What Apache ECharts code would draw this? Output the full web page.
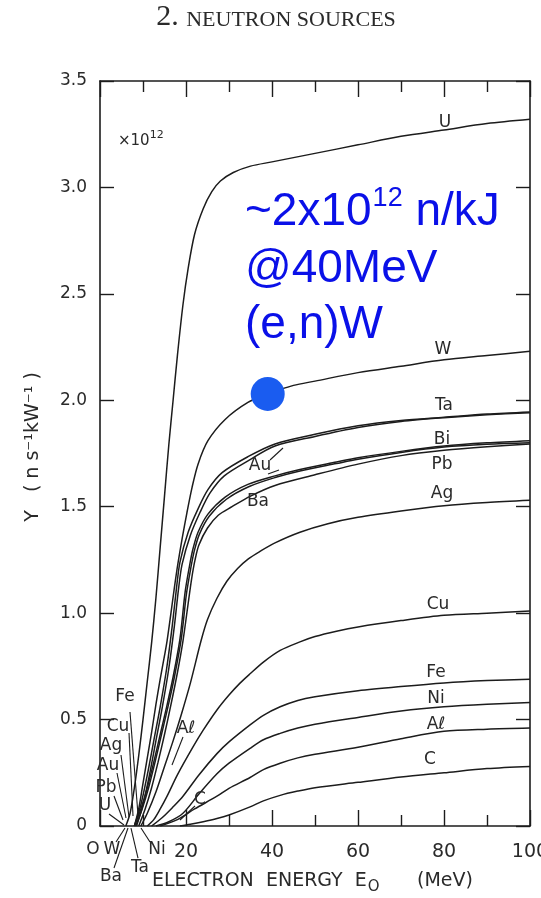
<!DOCTYPE html>
<html><head><meta charset="utf-8">
<script src="https://cdn.jsdelivr.net/npm/echarts@6.0.0/dist/echarts.min.js"></script>
<style>html,body{margin:0;padding:0;background:#fff}#c{width:541px;height:898px}</style>
</head><body><div id="c"></div>
<script>
// ---- data (x: electron energy MeV, y: yield ×10^12 n s^-1 kW^-1) ----
const yTicks = [0, 0.5, 1.0, 1.5, 2.0, 2.5, 3.0, 3.5];
const xTickLabels = [20, 40, 60, 80, 100];

const curveU  = [[6,0],[7,0.06],[8,0.18],[9,0.33],[10,0.5],[11,0.68],[12,0.86],[13,1.07],[14,1.31],[15,1.55],[16,1.79],[17,2.0],[18,2.21],[19.3,2.45],[20.5,2.62],[22,2.78],[24,2.9],[26,2.98],[28,3.03],[31,3.07],[35,3.1],[40,3.12],[50,3.16],[60,3.2],[70,3.24],[80,3.27],[90,3.3],[100,3.32]];
const curveW  = [[8,0],[9,0.08],[10,0.2],[11,0.32],[12,0.44],[13,0.57],[14,0.69],[15,0.8],[15.6,0.87],[16.5,1.0],[17.3,1.12],[18.1,1.23],[19.1,1.35],[20.2,1.47],[21.4,1.59],[22.8,1.7],[25.1,1.81],[29.1,1.91],[34.4,1.99],[39,2.03],[45,2.07],[50,2.09],[60,2.13],[70,2.16],[80,2.19],[90,2.21],[100,2.23]];
const curveTa = [[8,0],[9.5,0.1],[11,0.24],[12.5,0.4],[14,0.56],[15.5,0.74],[16.8,0.94],[17.8,1.12],[18.6,1.24],[20.5,1.38],[22.8,1.49],[25.1,1.58],[28.4,1.66],[34.4,1.735],[40.7,1.795],[50,1.84],[60,1.88],[70,1.905],[80,1.92],[90,1.935],[100,1.945]];
const curveAu = [[8.5,0],[10,0.1],[11.5,0.24],[13,0.4],[14.5,0.56],[16,0.74],[17.3,0.94],[18.3,1.12],[19.1,1.23],[21,1.365],[23.3,1.475],[25.6,1.565],[28.9,1.645],[34.8,1.72],[40.7,1.785],[50,1.83],[60,1.872],[70,1.9],[80,1.918],[90,1.932],[100,1.942]];
const curveBi = [[8,0],[9.5,0.08],[11,0.18],[12.5,0.3],[14,0.43],[15.5,0.56],[17,0.7],[18.6,0.88],[19.8,1.1],[20.8,1.22],[21.6,1.3],[22.8,1.38],[25.1,1.465],[29.1,1.545],[34.4,1.605],[40.7,1.645],[46.5,1.675],[55,1.71],[60,1.73],[70,1.76],[80,1.785],[90,1.8],[100,1.81]];
const curvePb = [[8.3,0],[9.8,0.08],[11.3,0.18],[12.8,0.3],[14.3,0.43],[15.8,0.56],[17.3,0.7],[18.9,0.88],[20.1,1.09],[21.1,1.21],[21.9,1.29],[23.1,1.37],[25.4,1.455],[29.4,1.535],[34.7,1.595],[40.7,1.637],[46.5,1.668],[55,1.703],[60,1.723],[70,1.755],[80,1.78],[90,1.793],[100,1.8]];
const curveBa = [[9,0],[10.5,0.08],[12,0.18],[13.5,0.3],[15,0.43],[16.5,0.57],[18,0.72],[19.3,0.87],[20.4,1.03],[21.3,1.16],[22.1,1.25],[23,1.32],[25,1.4],[27.5,1.46],[30.7,1.5],[35,1.55],[40.7,1.6],[50,1.65],[60,1.7],[70,1.74],[80,1.765],[90,1.782],[100,1.795]];
const curveAg = [[9.5,0],[11,0.06],[13,0.16],[15,0.28],[17,0.4],[19,0.53],[21,0.67],[23.5,0.87],[25,0.97],[27.2,1.07],[29.5,1.15],[32,1.21],[34.5,1.255],[37.2,1.29],[40.7,1.33],[46.5,1.38],[53,1.42],[60,1.45],[70,1.48],[80,1.505],[90,1.52],[100,1.53]];
const curveCu = [[11,0],[12.5,0.03],[14,0.08],[15.6,0.14],[18,0.24],[21.6,0.37],[24,0.45],[27.2,0.545],[30,0.615],[32.5,0.67],[34.9,0.715],[38,0.77],[41.9,0.825],[46.5,0.865],[50,0.89],[55,0.915],[60,0.935],[70,0.965],[80,0.99],[90,1.0],[100,1.01]];
const curveFe = [[12,0],[14.5,0.04],[17,0.09],[19.3,0.14],[23,0.24],[27.2,0.34],[30,0.395],[34.9,0.475],[38,0.52],[41.9,0.56],[46,0.59],[50,0.607],[60,0.635],[70,0.655],[80,0.672],[90,0.683],[100,0.69]];
const curveNi = [[13,0],[16,0.02],[19.3,0.06],[23,0.15],[27.2,0.245],[30,0.295],[34.9,0.365],[38,0.405],[41.9,0.435],[46,0.46],[50,0.478],[60,0.51],[70,0.54],[80,0.56],[90,0.572],[100,0.58]];
const curveAl = [[14,0],[18,0.03],[22,0.08],[27.2,0.14],[30,0.177],[34.9,0.228],[38,0.265],[41.9,0.295],[46,0.32],[50,0.337],[60,0.37],[70,0.41],[80,0.445],[90,0.455],[100,0.46]];
const curveC  = [[18.6,0],[21,0.008],[24,0.02],[27.2,0.035],[30,0.052],[34.9,0.09],[38,0.118],[41.9,0.144],[46,0.164],[50,0.18],[60,0.205],[70,0.23],[80,0.25],[90,0.27],[100,0.28]];
const highlightPoint = [[39, 2.03]];

// ---- chart ----
const curves = [curveU, curveW, curveTa, curveAu, curveBi, curvePb, curveBa, curveAg, curveCu, curveFe, curveNi, curveAl, curveC];
const INK = '#1c1c1c';
const TXT = '#2a2a2a';
const BLUE = '#0a10e8';

function measure(text, font) {
  const c = document.createElement('canvas').getContext('2d');
  c.font = font; return c.measureText(text).width;
}

const series = curves.map(d => ({
  type: 'line', data: d, symbol: 'none', smooth: 0.3,
  lineStyle: { color: INK, width: 1.5 }, silent: true, z: 2
}));
series.push({
  type: 'scatter', data: highlightPoint, symbolSize: 34,
  itemStyle: { color: '#1a5cf0', opacity: 1 }, z: 5
});

function lbl(text, x, y, size, extra) {
  return {
    type: 'text', x: x, y: y, z: 10,
    style: Object.assign({ text: text, fill: TXT, font: (size || 17) + 'px "DejaVu Sans"', align: 'center', verticalAlign: 'middle' }, extra || {})
  };
}
function seg(x1, y1, x2, y2) {
  return { type: 'line', z: 9, shape: { x1, y1, x2, y2 }, style: { stroke: INK, lineWidth: 1.1 } };
}

const graphics = [];
// title
const tFontA = '30px "Liberation Serif"', tFontB = '22px "Liberation Serif"';
const wA = measure('2. ', tFontA), wB = measure('NEUTRON SOURCES', tFontB);
const tx0 = 276 - (wA + wB) / 2;
graphics.push({ type: 'text', x: tx0, y: 32, style: { text: '2.', font: tFontA, fill: '#2a2a2a', align: 'left', verticalAlign: 'bottom' } });
graphics.push({ type: 'text', x: tx0 + wA, y: 31, style: { text: 'NEUTRON SOURCES', font: tFontB, fill: '#2a2a2a', align: 'left', verticalAlign: 'bottom' } });

// ×10^12
graphics.push({ type: 'text', x: 118, y: 141, style: { text: '×10', font: '15px "DejaVu Sans"', fill: TXT, align: 'left', verticalAlign: 'middle' } });
graphics.push({ type: 'text', x: 118 + measure('×10', '15px "DejaVu Sans"'), y: 135, style: { text: '12', font: '11px "DejaVu Sans"', fill: TXT, align: 'left', verticalAlign: 'middle' } });

// y axis name (rotated)
graphics.push({ type: 'text', x: 33, y: 447, rotation: Math.PI / 2, style: { text: 'Y   ( n s⁻¹kW⁻¹ )', font: '19px "DejaVu Sans"', fill: TXT, align: 'center', verticalAlign: 'middle' } });

// x axis name
const xnFont = '19px "DejaVu Sans"';
const xn1 = 'ELECTRON  ENERGY  E';
graphics.push({ type: 'text', x: 152, y: 881, style: { text: xn1, font: xnFont, fill: TXT, align: 'left', verticalAlign: 'middle' } });
const xnw = measure(xn1, xnFont);
graphics.push({ type: 'text', x: 152 + xnw + 1, y: 887, style: { text: 'O', font: '15px "DejaVu Sans"', fill: TXT, align: 'left', verticalAlign: 'middle' } });
graphics.push({ type: 'text', x: 417, y: 881, style: { text: '(MeV)', font: xnFont, fill: TXT, align: 'left', verticalAlign: 'middle' } });

// curve labels (right)
graphics.push(lbl('U', 445, 123), lbl('W', 443, 350), lbl('Ta', 444, 406), lbl('Bi', 442, 440),
  lbl('Pb', 442, 465), lbl('Ag', 442, 494), lbl('Cu', 438, 605), lbl('Fe', 436, 673),
  lbl('Ni', 436, 699), lbl('Aℓ', 436, 725), lbl('C', 430, 760),
  lbl('Au', 260, 466), lbl('Ba', 258, 502));
graphics.push(seg(270, 460, 283, 448), seg(268, 474, 279, 470));

// threshold cluster labels
graphics.push(lbl('Fe', 125, 697), lbl('Cu', 118, 727), lbl('Ag', 111, 746), lbl('Au', 108, 766),
  lbl('Pb', 106, 788), lbl('U', 105, 806), lbl('O', 93, 850), lbl('W', 112, 850),
  lbl('Ba', 111, 877), lbl('Ta', 140, 868), lbl('Ni', 157, 850), lbl('Aℓ', 186, 729), lbl('C', 200, 800));
graphics.push(seg(130, 712, 138, 815), seg(129, 733, 133, 816), seg(121, 755, 129, 817),
  seg(117, 773, 126, 818), seg(114, 796, 123, 820), seg(109, 814, 124, 825),
  seg(116, 842, 125, 828), seg(114, 868, 128, 828), seg(138, 858, 131, 828),
  seg(150, 842, 141, 828), seg(183, 737, 172, 765), seg(195, 806, 180, 820));

// blue annotation
const bFont = '46px "Liberation Sans"', bSup = '27px "Liberation Sans"';
const b1 = '~2x10';
const wb1 = measure(b1, bFont);
graphics.push({ type: 'text', x: 245, y: 212, z: 12, style: { text: b1, font: bFont, fill: BLUE, align: 'left', verticalAlign: 'middle' } });
graphics.push({ type: 'text', x: 245 + wb1 + 1, y: 199, z: 12, style: { text: '12', font: bSup, fill: BLUE, align: 'left', verticalAlign: 'middle' } });
graphics.push({ type: 'text', x: 245 + wb1 + 1 + measure('12', bSup), y: 212, z: 12, style: { text: ' n/kJ', font: bFont, fill: BLUE, align: 'left', verticalAlign: 'middle' } });
graphics.push({ type: 'text', x: 245, y: 269, z: 12, style: { text: '@40MeV', font: bFont, fill: BLUE, align: 'left', verticalAlign: 'middle' } });
graphics.push({ type: 'text', x: 245, y: 325, z: 12, style: { text: '(e,n)W', font: bFont, fill: BLUE, align: 'left', verticalAlign: 'middle' } });

const axLine = { show: true, onZero: false, lineStyle: { color: INK, width: 1.6 } };
const xCommon = {
  type: 'value', min: 0, max: 100, interval: 20,
  axisLine: axLine, splitLine: { show: false },
  axisTick: { show: true, inside: true, length: 16, lineStyle: { color: INK, width: 1.4 } },
  minorTick: { show: true, splitNumber: 2, length: 11, lineStyle: { color: INK, width: 1.4 } },
  minorSplitLine: { show: false }
};
const yCommon = {
  type: 'value', min: 0, max: 3.5, interval: 0.5,
  axisLine: axLine, splitLine: { show: false },
  axisTick: { show: true, inside: true, length: 14, lineStyle: { color: INK, width: 1.4 } }
};

const chart = echarts.init(document.getElementById('c'), null, { renderer: 'canvas' });
chart.setOption({
  animation: false,
  backgroundColor: '#ffffff',
  grid: { left: 100, right: 11, top: 81, bottom: 72, containLabel: false, outerBoundsMode: 'none' },
  xAxis: [
    Object.assign({}, xCommon, { position: 'bottom',
      axisLabel: { show: true, margin: 17, color: TXT, fontSize: 19, fontFamily: 'DejaVu Sans',
        formatter: v => xTickLabels.includes(v) ? String(v) : '' } }),
    Object.assign({}, xCommon, { position: 'top', axisLabel: { show: false } })
  ],
  yAxis: [
    Object.assign({}, yCommon, { position: 'left',
      axisLabel: { show: true, margin: 13, color: TXT, fontSize: 17, fontFamily: 'DejaVu Sans',
        formatter: v => { const t = yTicks.find(k => Math.abs(k - v) < 1e-9); return t === undefined ? '' : (t === 0 ? '0' : t.toFixed(1)); } } }),
    Object.assign({}, yCommon, { position: 'right', axisLabel: { show: false } })
  ],
  series: series,
  graphic: graphics
});
</script></body></html>
